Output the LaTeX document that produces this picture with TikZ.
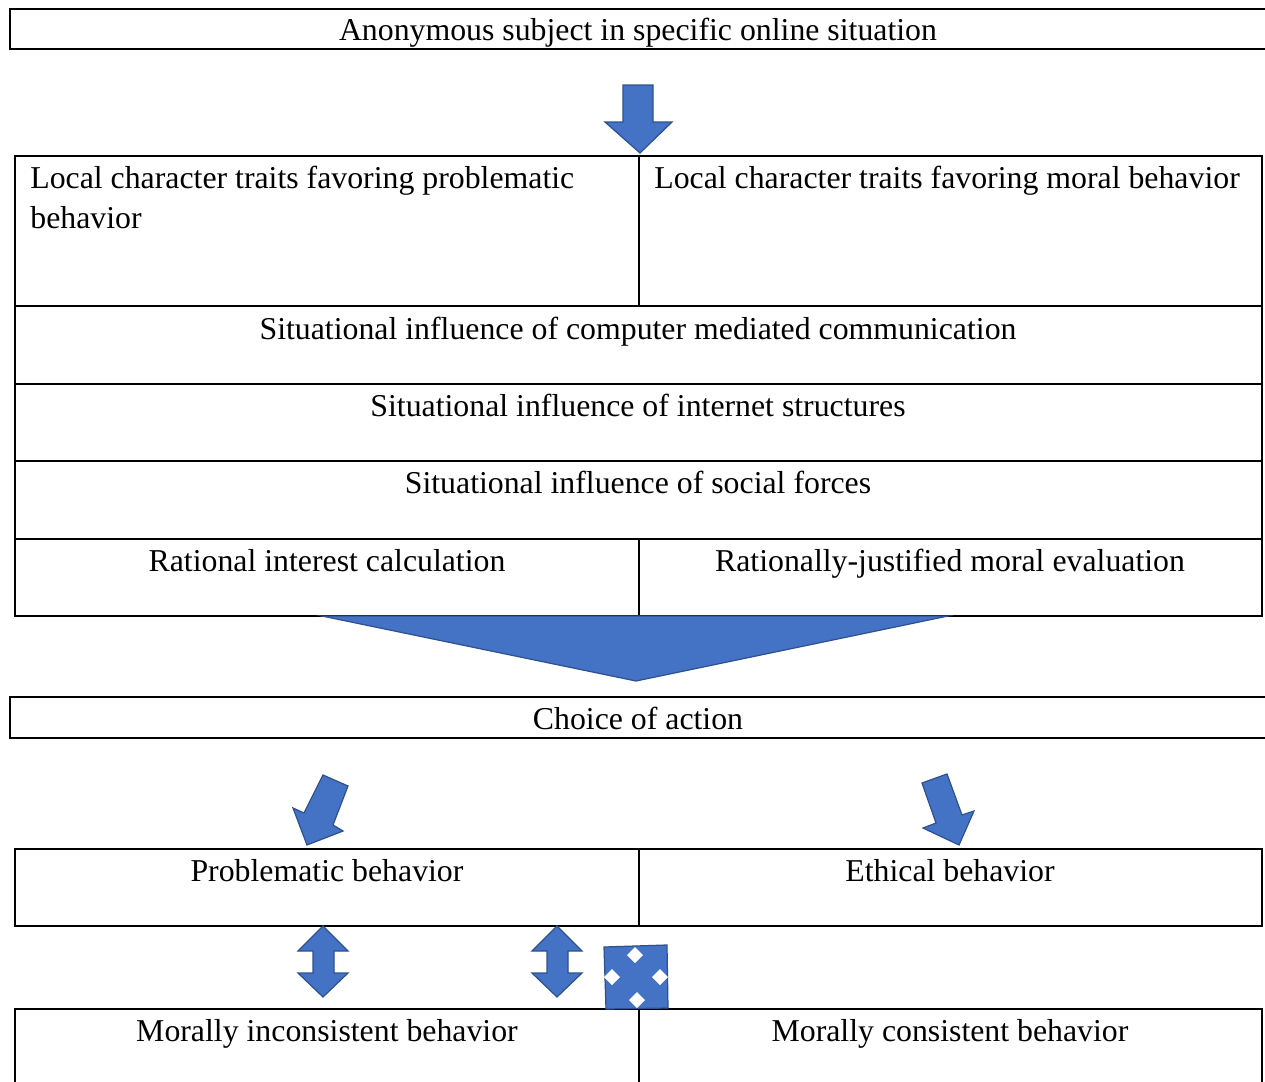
\documentclass[tikz,border=0pt]{standalone}
\usepackage{fontspec}
\setmainfont{Liberation Serif}
\usetikzlibrary{positioning}
\definecolor{arrowfill}{HTML}{4472C4}
\definecolor{arrowline}{HTML}{2F528F}
\tikzset{
  cell/.style={inner sep=0pt, anchor=base, font=\fontsize{18.1}{22.7}\selectfont},
  rule/.style={line width=0.9pt},
  blockarrow/.style={fill=arrowfill, draw=arrowline, line width=0.7pt, line join=miter},
}
\begin{document}
\begin{tikzpicture}[x=0.02cm,y=-0.02cm]
  \clip (0,0) rectangle (1265,1082);
  \fill[white] (0,0) rectangle (1265,1082);

  % frames and table rules
  \draw[rule] (10,9) rectangle (1290,49);
  \draw[rule] (15,156) rectangle (1262,616);
  \foreach \y in {306,384,461,539}
    \draw[rule] (15,\y) -- (1262,\y);
  \draw[rule] (639,156) -- (639,306);
  \draw[rule] (639,539) -- (639,616);
  \draw[rule] (10,697) rectangle (1290,738);
  \draw[rule] (15,849) rectangle (1262,926);
  \draw[rule] (639,849) -- (639,926);
  \draw[rule] (15,1009) rectangle (1262,1100);
  \draw[rule] (639,1009) -- (639,1100);

  % texts
  \node[cell] (subject) at (638,40) {Anonymous subject in specific online situation};
  \node[cell, anchor=base west, align=left] (probtraits) at (30,228) {Local character traits favoring problematic\\behavior};
  \node[cell, anchor=base west] (moraltraits) at (654,188) {Local character traits favoring moral behavior};
  \node[cell] (cmc) at (638,339) {Situational influence of computer mediated communication};
  \node[cell] (structures) at (638,416) {Situational influence of internet structures};
  \node[cell] (social) at (638,493) {Situational influence of social forces};
  \node[cell] (interest) at (327,571) {Rational interest calculation};
  \node[cell] (evaluation) at (950,571) {Rationally-justified moral evaluation};
  \node[cell] (choice) at (638,729) {Choice of action};
  \node[cell] (problematic) at (327,881) {Problematic behavior};
  \node[cell] (ethical) at (950,881) {Ethical behavior};
  \node[cell] (inconsistent) at (327,1041) {Morally inconsistent behavior};
  \node[cell] (consistent) at (950,1041) {Morally consistent behavior};

  % block arrows
  \draw[blockarrow] (623,85) -- (653,85) -- (653,122) -- (672,122) -- (640,153)
    -- (605,122) -- (623,122) -- cycle;
  \draw[blockarrow] (322,616) -- (948,616) -- (636,681) -- cycle;
  \draw[blockarrow] (323,775) -- (348,786) -- (333,825) -- (343,831) -- (307,845)
    -- (293,808) -- (304,813) -- cycle;
  \draw[blockarrow] (922,783) -- (947,774) -- (962,815) -- (974,811) -- (959,845)
    -- (923,828) -- (936,823) -- cycle;
  \foreach \x in {323,557}
    \draw[blockarrow] (\x,926) -- (\x+25,951) -- (\x+11,951) -- (\x+11,973)
      -- (\x+25,973) -- (\x,997) -- (\x-25,973) -- (\x-10,973) -- (\x-10,951)
      -- (\x-25,951) -- cycle;
  \draw[blockarrow] (604,947) -- (667,945) -- (668,1008) -- (606,1009) -- cycle;
  \foreach \cx/\cy in {635/955,612/977,660/977,637/1000}
    \fill[white] (\cx,\cy-8) -- (\cx+8,\cy) -- (\cx,\cy+8) -- (\cx-8,\cy) -- cycle;
\end{tikzpicture}
\end{document}
